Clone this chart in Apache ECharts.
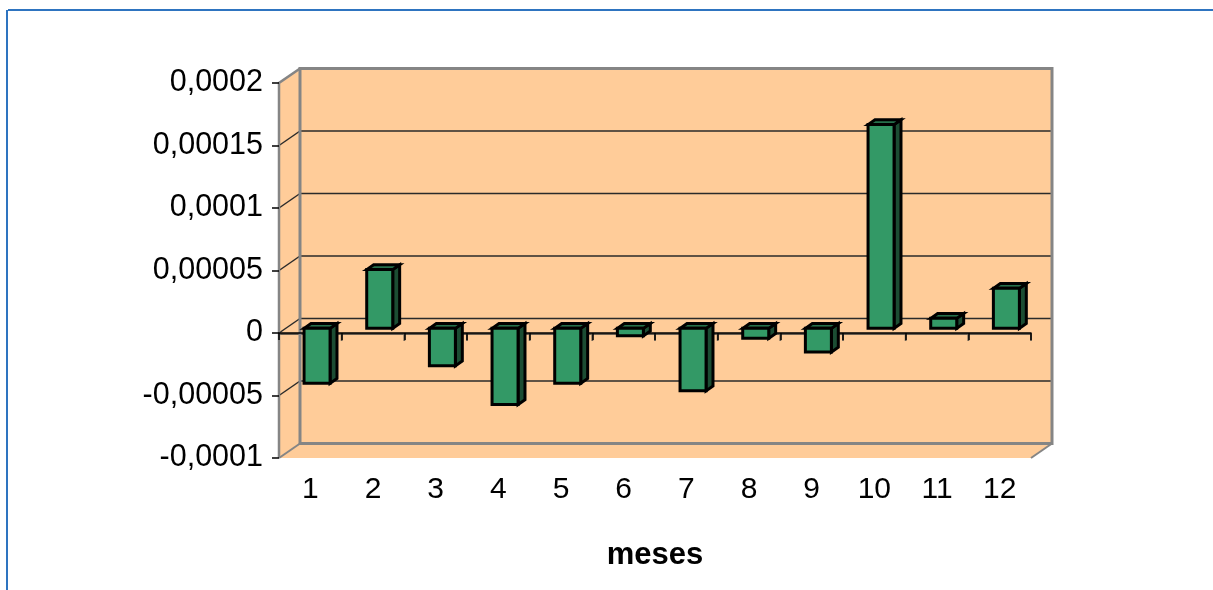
<!DOCTYPE html>
<html>
<head>
<meta charset="utf-8">
<script src="https://cdn.jsdelivr.net/npm/echarts@6/dist/echarts.min.js"></script>
<style>
  html, body { margin: 0; padding: 0; background: #ffffff; }
  #chart { width: 1213px; height: 590px; }
</style>
</head>
<body>
<div id="chart"></div>
<script>
// Monthly values
const months = ['1', '2', '3', '4', '5', '6', '7', '8', '9', '10', '11', '12'];
const values = [-0.000044, 0.000047, -0.00003, -0.000061, -0.000044, -0.000006,
                -0.00005, -0.000008, -0.000019, 0.000163, 0.000008, 0.000032];

// Value axis range
const yMin = -0.0001;
const yMax = 0.0002;
const yStep = 0.00005;

// 3D box depth (screen px) and bar placement within that depth
const DEPTH_X = 21;
const DEPTH_Y = -14.5;
const BAR_FRONT = 0.32;
const BAR_BACK = 0.65;
const BAR_WIDTH = 0.415;

const WALL = '#FFCC99';
const EDGE = '#858585';
const GRID = '#2a2a2a';

function fmt(v) {
  const n = parseFloat(Number(v).toPrecision(6));
  return n === 0 ? '0' : String(n).replace('.', ',');
}

function renderWalls(params, api) {
  const cs = params.coordSys;
  const x0 = cs.x, x1 = cs.x + cs.width, yT = cs.y, yB = cs.y + cs.height;
  const dx = DEPTH_X, dy = DEPTH_Y;
  const kids = [];
  // side wall, floor, back wall
  kids.push({ type: 'polygon', shape: { points: [[x0, yT], [x0 + dx, yT + dy], [x0 + dx, yB + dy], [x0, yB]] }, style: { fill: WALL } });
  kids.push({ type: 'polygon', shape: { points: [[x0, yB], [x0 + dx, yB + dy], [x1 + dx, yB + dy], [x1, yB]] }, style: { fill: WALL } });
  kids.push({ type: 'rect', shape: { x: x0 + dx, y: yT + dy, width: cs.width, height: cs.height }, style: { fill: WALL } });
  // gridlines on back wall and side wall
  const n = Math.round((yMax - yMin) / yStep);
  for (let i = 1; i < n; i++) {
    const v = yMin + i * yStep;
    const y = api.coord([0, v])[1];
    kids.push({ type: 'line', shape: { x1: x0 + dx, y1: y + dy, x2: x1 + dx, y2: y + dy }, style: { stroke: GRID, lineWidth: 1.5 } });
    kids.push({ type: 'line', shape: { x1: x0, y1: y, x2: x0 + dx, y2: y + dy }, style: { stroke: GRID, lineWidth: 1.5 } });
  }
  // front line at zero level with category ticks
  const y0 = api.coord([0, 0])[1] + 1;
  kids.push({ type: 'line', shape: { x1: x0, y1: y0, x2: x1, y2: y0 }, style: { stroke: '#6a5e50', lineWidth: 1.8 } });
  const cats = months.length;
  for (let k = 1; k <= cats; k++) {
    const x = x0 + k * cs.width / cats;
    kids.push({ type: 'line', shape: { x1: x, y1: y0, x2: x, y2: y0 + 7 }, style: { stroke: '#6a5e50', lineWidth: 1.8 } });
  }
  // box edges
  kids.push({ type: 'rect', shape: { x: x0 + dx, y: yT + dy, width: cs.width, height: cs.height }, style: { fill: null, stroke: EDGE, lineWidth: 3 } });
  kids.push({ type: 'polyline', shape: { points: [[x0, yB], [x0, yT], [x0 + dx, yT + dy]] }, style: { fill: null, stroke: EDGE, lineWidth: 2.5 } });
  kids.push({ type: 'line', shape: { x1: x0, y1: yB, x2: x0 + dx, y2: yB + dy }, style: { stroke: EDGE, lineWidth: 2 } });
  kids.push({ type: 'line', shape: { x1: x1, y1: yB, x2: x1 + dx, y2: yB + dy }, style: { stroke: EDGE, lineWidth: 2 } });
  return { type: 'group', children: kids };
}

function renderBar(params, api) {
  const idx = api.value(0);
  const v = api.value(1);
  const base = api.coord([idx, 0]);
  const end = api.coord([idx, v]);
  const band = api.size([1, 0])[0];
  const w = band * BAR_WIDTH;
  const ox = DEPTH_X * BAR_FRONT, oy = DEPTH_Y * BAR_FRONT;
  const bx = DEPTH_X * (BAR_BACK - BAR_FRONT), by = DEPTH_Y * (BAR_BACK - BAR_FRONT);
  const left = base[0] - w / 2 + ox;
  const right = left + w;
  const yTop = Math.min(base[1], end[1]) + oy;
  const yBot = Math.max(base[1], end[1]) + oy;
  const stroke = { stroke: '#000000', lineWidth: 3, lineJoin: 'miter' };
  return {
    type: 'group',
    children: [
      { type: 'polygon', shape: { points: [[right, yTop], [right + bx, yTop + by], [right + bx, yBot + by], [right, yBot]] },
        style: Object.assign({ fill: '#1c4d33' }, stroke) },
      { type: 'polygon', shape: { points: [[left, yTop], [left + bx, yTop + by], [right + bx, yTop + by], [right, yTop]] },
        style: Object.assign({ fill: '#26704b' }, stroke) },
      { type: 'rect', shape: { x: left, y: yTop, width: w, height: yBot - yTop },
        style: Object.assign({ fill: '#339966' }, stroke) }
    ]
  };
}

const chart = echarts.init(document.getElementById('chart'), null, { renderer: 'canvas' });

chart.setOption({
  backgroundColor: '#ffffff',
  animation: false,
  textStyle: { fontFamily: 'Liberation Sans, Arial, sans-serif' },
  grid: { left: 279, right: 182, top: 83, bottom: 132 },
  xAxis: {
    type: 'category',
    data: months,
    boundaryGap: true,
    axisLine: { show: true, lineStyle: { color: '#000000', width: 1.5 } },
    axisTick: { show: true, interval: 0, length: 7, lineStyle: { color: '#000000', width: 1.5 } },
    axisLabel: { fontSize: 30, color: '#000000', margin: 17, interval: 0 },
    splitLine: { show: false },
    name: 'meses',
    nameLocation: 'middle',
    nameGap: 82,
    nameTextStyle: { fontSize: 31, fontWeight: 'bold', color: '#000000' }
  },
  yAxis: {
    type: 'value',
    min: yMin,
    max: yMax,
    interval: yStep,
    axisLine: { show: false },
    axisTick: { show: true, length: 7, lineStyle: { color: '#000000', width: 1.5 } },
    axisLabel: { fontSize: 30.5, color: '#000000', margin: 16, formatter: fmt },
    splitLine: { show: false }
  },
  graphic: [
    { type: 'line', shape: { x1: 8, y1: 10, x2: 1213, y2: 10 }, style: { stroke: '#2e74c0', lineWidth: 2 }, z: 10 },
    { type: 'line', shape: { x1: 7, y1: 10, x2: 7, y2: 590 }, style: { stroke: '#2e74c0', lineWidth: 2 }, z: 10 }
  ],
  series: [
    {
      type: 'custom',
      name: 'walls',
      data: [[0, 0]],
      encode: { x: 0, y: 1 },
      renderItem: renderWalls,
      clip: false,
      silent: true,
      z: -1
    },
    {
      type: 'custom',
      name: 'valores',
      data: values.map((v, i) => [i, v]),
      encode: { x: 0, y: 1 },
      renderItem: renderBar,
      clip: false,
      z: 3
    }
  ]
});
</script>
</body>
</html>
